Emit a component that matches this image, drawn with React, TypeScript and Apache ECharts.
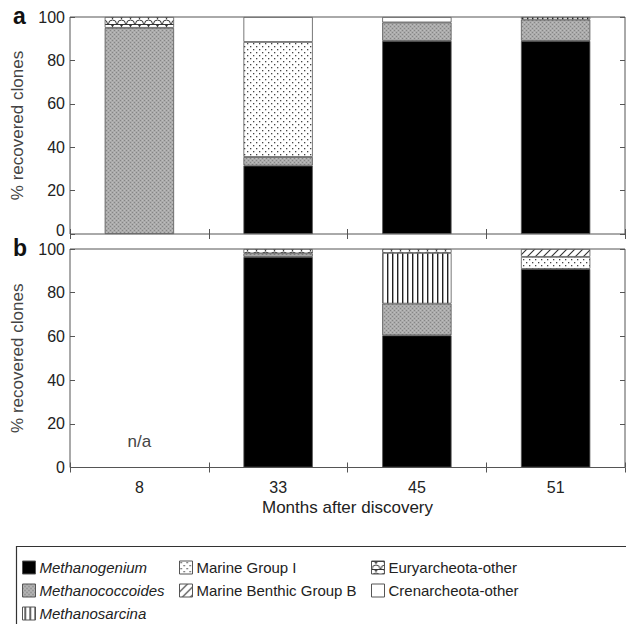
import React, { useEffect, useRef } from 'react';
import * as echarts from 'echarts';

// ---------- data ----------
const categories = ['8', '33', '45', '51'];
const seriesNames = [
  'Methanogenium',
  'Methanococcoides',
  'Methanosarcina',
  'Marine Group I',
  'Marine Benthic Group B',
  'Euryarcheota-other',
  'Crenarcheota-other',
];

// panel a
const methanogeniumA = [0, 31.5, 89, 89];
const methanococcoidesA = [95, 4, 8.5, 9.8];
const methanosarcinaA = [0, 0, 0, 1.2];
const marineGroupIA = [0, 53, 0, 0];
const marineBenthicBA = [0, 0, 0, 0];
const euryarcheotaA = [5, 0, 0, 0];
const crenarcheotaA = [0, 11.5, 2.5, 0];

// panel b (8 months: n/a)
const methanogeniumB = [0, 96.4, 60.5, 90.9];
const methanococcoidesB = [0, 1.6, 14.5, 0];
const methanosarcinaB = [0, 0, 23.2, 0];
const marineGroupIB = [0, 0, 0, 5.5];
const marineBenthicBB = [0, 0, 0, 3.6];
const euryarcheotaB = [0, 2, 1.8, 0];
const crenarcheotaB = [0, 0, 0, 0];

const naCategoryIndex = 0;
const naLabelValue = 12;

const panelA = [methanogeniumA, methanococcoidesA, methanosarcinaA, marineGroupIA, marineBenthicBA, euryarcheotaA, crenarcheotaA];
const panelB = [methanogeniumB, methanococcoidesB, methanosarcinaB, marineGroupIB, marineBenthicBB, euryarcheotaB, crenarcheotaB];

// ---------- styles ----------
const FONT = '"Liberation Sans", Arial, Helvetica, sans-serif';

function pattern(w: number, h: number, draw: (ctx: CanvasRenderingContext2D) => void) {
  const c = document.createElement('canvas');
  c.width = w;
  c.height = h;
  const ctx = c.getContext('2d') as CanvasRenderingContext2D;
  ctx.fillStyle = '#ffffff';
  ctx.fillRect(0, 0, w, h);
  draw(ctx);
  return { image: c.toDataURL(), repeat: 'repeat', imageWidth: w, imageHeight: h } as any;
}

function buildFills() {
  const gray = pattern(4, 4, (ctx) => {
    ctx.fillStyle = '#ababab';
    ctx.fillRect(0, 0, 4, 4);
    ctx.fillStyle = '#858585';
    ctx.fillRect(0, 0, 1, 1);
    ctx.fillRect(2, 2, 1, 1);
    ctx.fillStyle = '#bdbdbd';
    ctx.fillRect(2, 0, 1, 1);
    ctx.fillRect(0, 2, 1, 1);
  });
  const vertical = pattern(5, 4, (ctx) => {
    ctx.fillStyle = '#222';
    ctx.fillRect(2, 0, 1.4, 4);
  });
  const dots = pattern(6, 6, (ctx) => {
    ctx.fillStyle = '#444';
    ctx.fillRect(1, 1, 1.3, 1.3);
    ctx.fillRect(4, 4, 1.3, 1.3);
  });
  const hatch = pattern(8, 8, (ctx) => {
    ctx.strokeStyle = '#333';
    ctx.lineWidth = 1.1;
    ctx.beginPath();
    ctx.moveTo(0, 8);
    ctx.lineTo(8, 0);
    ctx.moveTo(-2, 2);
    ctx.lineTo(2, -2);
    ctx.moveTo(6, 10);
    ctx.lineTo(10, 6);
    ctx.stroke();
  });
  const eury = pattern(9, 8, (ctx) => {
    ctx.strokeStyle = '#333';
    ctx.lineWidth = 1;
    ctx.beginPath();
    ctx.arc(4.5, 8, 4, Math.PI, 0);
    ctx.stroke();
    ctx.beginPath();
    ctx.moveTo(0, 0.5);
    ctx.lineTo(9, 0.5);
    ctx.stroke();
    ctx.fillStyle = '#333';
    ctx.beginPath();
    ctx.moveTo(3, 1);
    ctx.lineTo(6, 1);
    ctx.lineTo(4.5, 3.5);
    ctx.closePath();
    ctx.fill();
  });
  return ['#000000', gray, vertical, dots, hatch, eury, '#ffffff'];
}

export default function App() {
  const ref = useRef<HTMLDivElement>(null);

  useEffect(() => {
    if (!ref.current) return;
    const chart = echarts.init(ref.current, undefined, { renderer: 'svg' });
    const fills = buildFills();

    const grids = [
      { left: 70, top: 17, width: 555, height: 217 },
      { left: 70, top: 249, width: 555, height: 218.5 },
    ].map((g) => ({ ...g, show: true, borderColor: '#555', borderWidth: 1, backgroundColor: 'transparent' }));

    const tickStyle = { show: true, inside: true, length: 5, lineStyle: { color: '#555', width: 1 } };

    const xAxes: any[] = [];
    const yAxes: any[] = [];
    [0, 1].forEach((gi) => {
      xAxes.push({
        type: 'category',
        data: categories,
        gridIndex: gi,
        position: 'bottom',
        axisLine: { show: false },
        axisTick: { ...tickStyle, alignWithLabel: false, interval: 0 },
        axisLabel: { show: gi === 1, fontSize: 16, color: '#222', fontFamily: FONT, margin: 12 },
        name: gi === 1 ? 'Months after discovery' : '',
        nameLocation: 'middle',
        nameGap: 31,
        nameTextStyle: { fontSize: 17, color: '#222', fontFamily: FONT },
      });
      xAxes.push({
        type: 'category',
        data: categories,
        gridIndex: gi,
        position: 'top',
        axisLine: { show: false },
        axisTick: { ...tickStyle, alignWithLabel: false, interval: 0 },
        axisLabel: { show: false },
      });
      yAxes.push({
        type: 'value',
        gridIndex: gi,
        position: 'left',
        min: 0,
        max: 100,
        interval: 20,
        axisLine: { show: false },
        axisTick: tickStyle,
        splitLine: { show: false },
        axisLabel: {
          fontSize: 16,
          color: '#222',
          fontFamily: FONT,
          margin: 5,
          formatter: (v: number) => (gi === 0 && v === 0 ? '{z|0}' : String(v)),
          rich: { z: { fontSize: 16, color: '#222', fontFamily: FONT, padding: [0, 0, 7, 0] } },
        },
        name: '% recovered clones',
        nameLocation: 'middle',
        nameGap: 44,
        nameTextStyle: { fontSize: 17, color: '#444', fontFamily: FONT },
      });
      yAxes.push({
        type: 'value',
        gridIndex: gi,
        position: 'right',
        min: 0,
        max: 100,
        interval: 20,
        axisLine: { show: false },
        axisTick: tickStyle,
        splitLine: { show: false },
        axisLabel: { show: false },
      });
    });

    const series: any[] = [];
    [panelA, panelB].forEach((panel, pi) => {
      panel.forEach((vals, si) => {
        const s: any = {
          type: 'bar',
          name: seriesNames[si],
          xAxisIndex: pi * 2,
          yAxisIndex: pi * 2,
          stack: pi === 0 ? 'a' : 'b',
          barWidth: '50%',
          data: vals.map((v) => (v > 0 ? v : null)),
          itemStyle: { color: fills[si], borderColor: '#555', borderWidth: 0.8 },
          emphasis: { disabled: true },
        };
        if (pi === 1 && si === 0) {
          s.markPoint = {
            symbol: 'rect',
            symbolSize: 0,
            data: [{ coord: [naCategoryIndex, naLabelValue], value: 'n/a' }],
            label: { show: true, position: 'inside', formatter: 'n/a', fontSize: 17, color: '#444', fontFamily: FONT },
          };
        }
        series.push(s);
      });
    });

    const legendBase = {
      orient: 'vertical',
      top: 560,
      itemWidth: 13,
      itemHeight: 13,
      itemGap: 8,
      padding: 0,
      icon: 'rect',
      selectedMode: false,
      itemStyle: { borderColor: '#555', borderWidth: 1 },
      textStyle: { fontSize: 15, color: '#222', fontFamily: FONT, padding: [0, 0, 0, -1] },
    };

    chart.setOption({
      animation: false,
      backgroundColor: '#ffffff',
      grid: grids,
      xAxis: xAxes,
      yAxis: yAxes,
      series,
      legend: [
        { ...legendBase, left: 22, data: seriesNames.slice(0, 3), textStyle: { ...legendBase.textStyle, fontStyle: 'italic' } },
        { ...legendBase, left: 179, data: seriesNames.slice(3, 5) },
        { ...legendBase, left: 371, data: seriesNames.slice(5, 7) },
      ],
      graphic: [
        { type: 'text', left: 13, top: 4, style: { text: 'a', fontSize: 23, fontWeight: 'bold', fill: '#111', fontFamily: FONT } },
        { type: 'text', left: 13, top: 236, style: { text: 'b', fontSize: 23, fontWeight: 'bold', fill: '#111', fontFamily: FONT } },
        { type: 'rect', shape: { x: 16.5, y: 546.5, width: 640, height: 100 }, style: { fill: 'none', stroke: '#333', lineWidth: 1.2 }, silent: true },
      ],
    } as any);

    return () => chart.dispose();
  }, []);

  return <div ref={ref} style={{ position: 'absolute', left: 0, top: 0, width: 626, height: 624 }} />;
}
